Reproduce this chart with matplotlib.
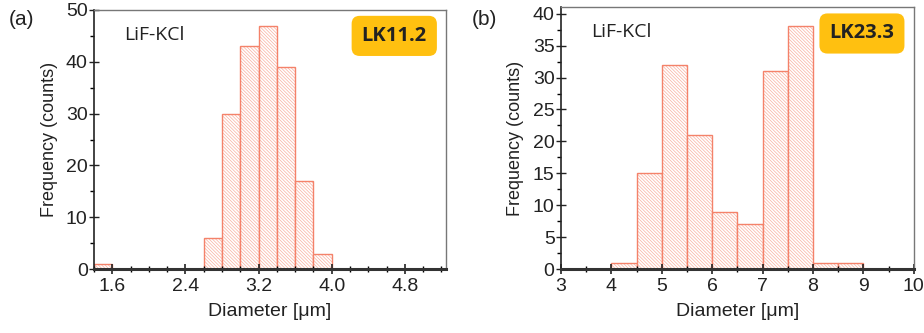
import matplotlib.pyplot as plt
from matplotlib.ticker import MultipleLocator

plt.rcParams['font.family'] = ['Liberation Sans', 'DejaVu Sans']
plt.rcParams['hatch.linewidth'] = 0.5

# Panel (a): LK11.2, bin width 0.2 um
edges_a = [1.4, 1.6, 1.8, 2.0, 2.2, 2.4, 2.6, 2.8, 3.0, 3.2, 3.4, 3.6, 3.8, 4.0]
counts_a = [1, 0, 0, 0, 0, 0, 6, 30, 43, 47, 39, 17, 3]

# Panel (b): LK23.3, bin width 0.5 um
edges_b = [4.0, 4.5, 5.0, 5.5, 6.0, 6.5, 7.0, 7.5, 8.0, 8.5, 9.0]
counts_b = [1, 15, 32, 21, 9, 7, 31, 38, 1, 1]

bar_edge = '#f4826a'
hatch_col = '#f9b0a0'
box_col = '#ffc010'

fig = plt.figure(figsize=(9.24, 3.33), dpi=100)
ax1 = fig.add_axes([0.1017, 0.192, 0.381, 0.778])
ax2 = fig.add_axes([0.607, 0.192, 0.382, 0.786])


def draw(ax, edges, counts, xlim, ylim, xmaj, xmin, ymaj, ymin, tag, fmt):
    lefts = edges[:-1]
    widths = [b - a for a, b in zip(edges[:-1], edges[1:])]
    for x, w, c in zip(lefts, widths, counts):
        if c == 0:
            continue
        ax.bar(x, c, width=w, align='edge', facecolor='white', edgecolor=hatch_col,
               hatch='\\' * 10, linewidth=0)
        ax.bar(x, c, width=w, align='edge', facecolor='none', edgecolor=bar_edge,
               linewidth=1.0)
    ax.set_xlim(*xlim)
    ax.set_ylim(*ylim)
    ax.xaxis.set_major_locator(MultipleLocator(xmaj))
    ax.xaxis.set_minor_locator(MultipleLocator(xmin))
    ax.yaxis.set_major_locator(MultipleLocator(ymaj))
    ax.yaxis.set_minor_locator(MultipleLocator(ymin))
    ax.xaxis.set_major_formatter(fmt)
    ax.tick_params(axis='x', which='major', direction='inout', length=7, width=1.2,
                   labelsize=14, colors='#222222', pad=3)
    ax.tick_params(axis='x', which='minor', direction='inout', length=4, width=1)
    ax.tick_params(axis='y', which='major', direction='inout', length=7, width=1,
                   labelsize=14, colors='#222222', pad=1)
    ax.tick_params(axis='y', which='minor', direction='out', length=3, width=1)
    for s in ['top', 'right']:
        ax.spines[s].set_color('#777777')
        ax.spines[s].set_linewidth(1.0)
    ax.spines['left'].set_color('#222222')
    ax.spines['left'].set_linewidth(1.2)
    ax.spines['bottom'].set_color('#333333')
    ax.spines['bottom'].set_linewidth(2.2)
    ax.set_xlabel('Diameter [μm]', fontsize=14, color='#222222', labelpad=6)
    ax.set_ylabel('Frequency (counts)', fontsize=13, color='#222222', labelpad=6)
    ax.text(0.085, 0.905, 'LiF-KCl', transform=ax.transAxes, fontsize=14,
            family=['Open Sans', 'DejaVu Sans'], color='#222222', va='center', ha='left')
    ax.text(0.853, 0.90, tag, transform=ax.transAxes, fontsize=14.5, fontweight='bold',
            family=['Open Sans', 'DejaVu Sans'], color='#222222', va='center', ha='center',
            bbox=dict(boxstyle='round,pad=0.5,rounding_size=0.4', facecolor=box_col,
                      edgecolor='none'))


draw(ax1, edges_a, counts_a, (1.4, 5.25), (0, 50), 0.8, 0.2, 10, 5, 'LK11.2',
     lambda v, p: f'{v:.1f}')
draw(ax2, edges_b, counts_b, (3, 10), (0, 41), 1, 0.5, 5, 2.5, 'LK23.3',
     lambda v, p: f'{v:.0f}')

fig.text(0.010, 0.925, '(a)', fontsize=15, color='#222222')
fig.text(0.511, 0.925, '(b)', fontsize=15, color='#222222')

plt.savefig('out.png', dpi=100)
plt.close()
